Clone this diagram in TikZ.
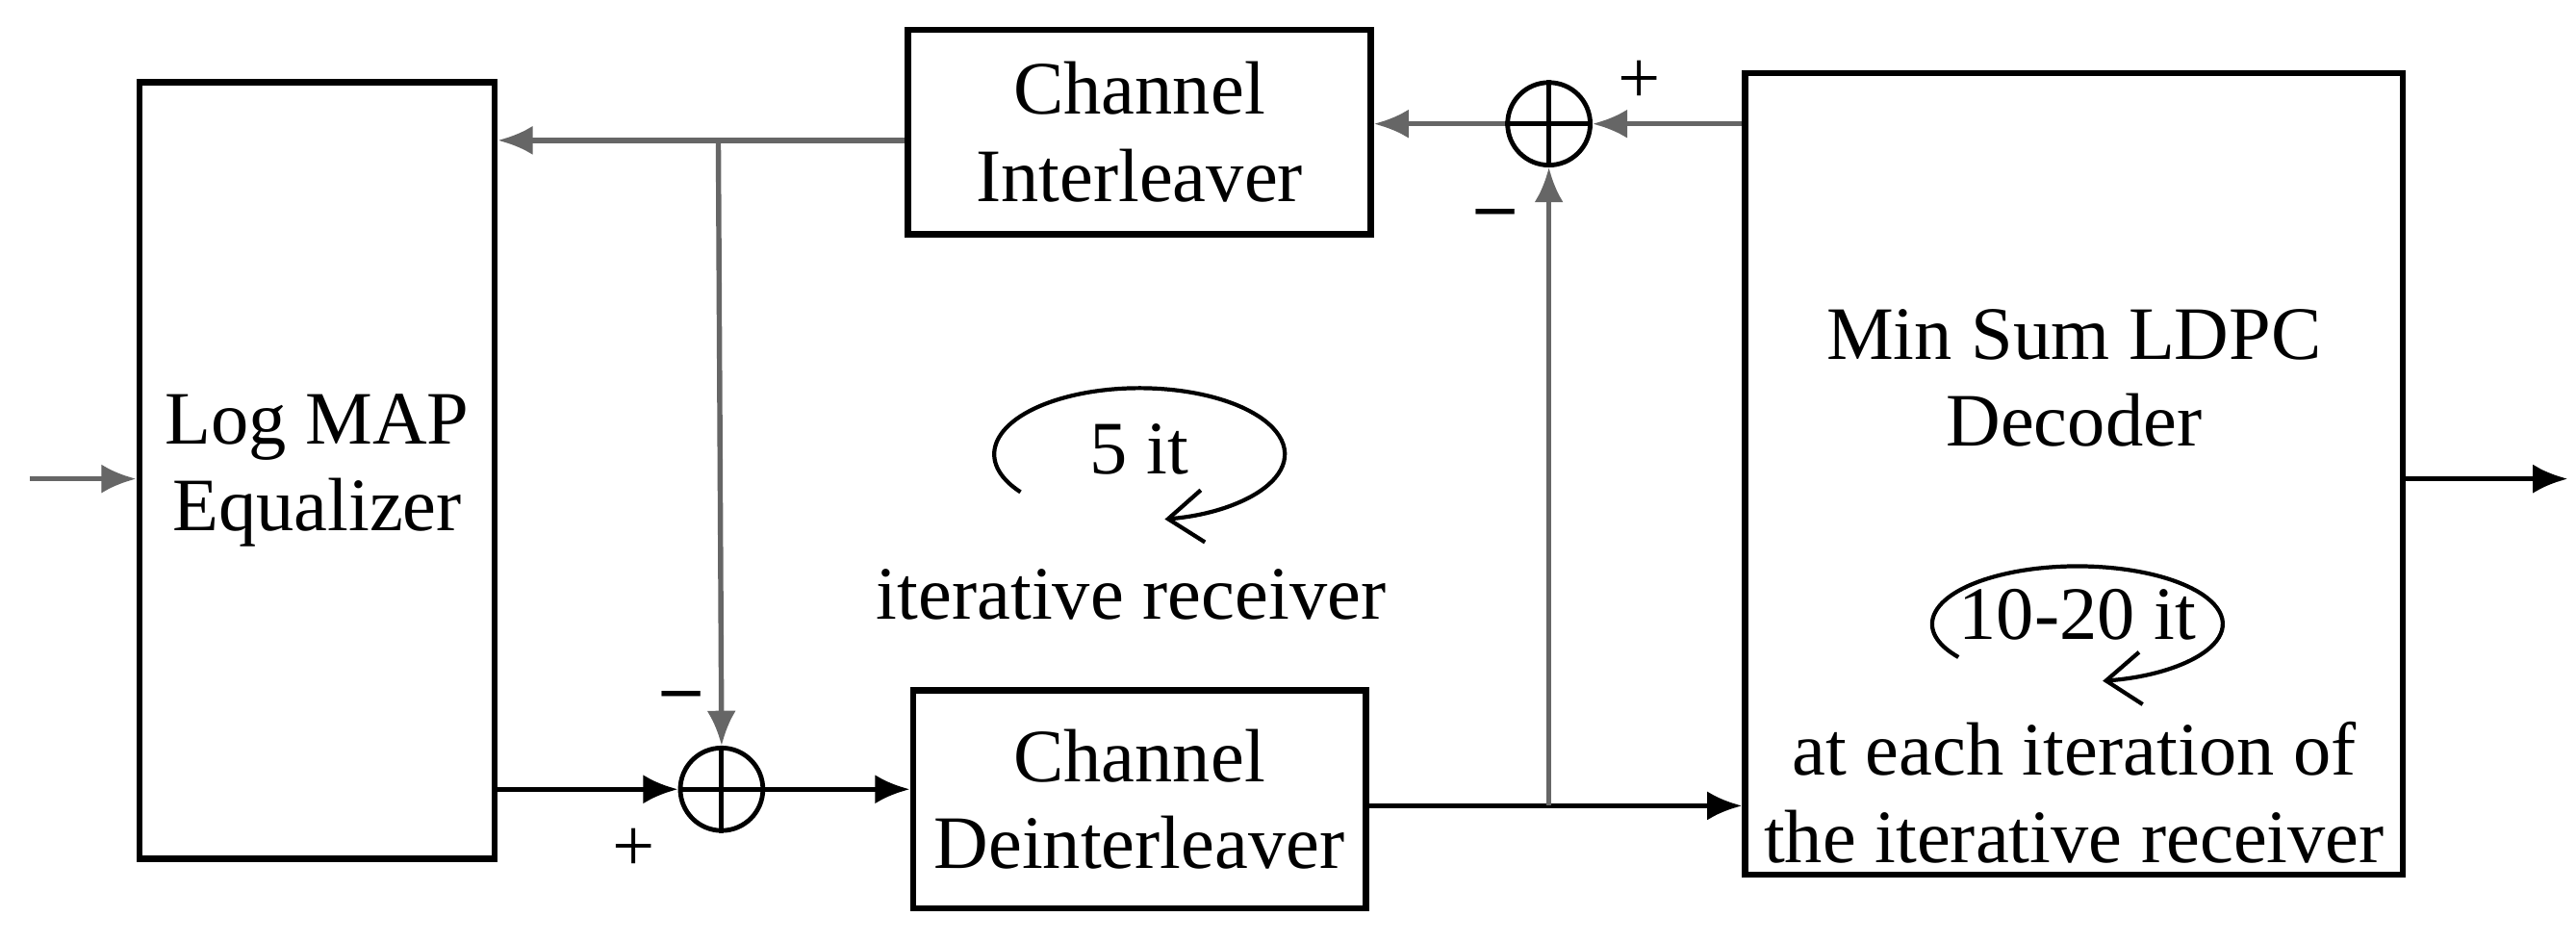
\documentclass[tikz,border=0pt]{standalone}
\usepackage{fontspec}
\setmainfont{Liberation Serif}
\usetikzlibrary{arrows.meta,calc}
\begin{document}
\begin{tikzpicture}[x=0.01cm,y=-0.01cm,
  box/.style={draw,line width=1.1pt,align=center,font=\fontsize{13}{15}\selectfont,inner sep=0},
  wire/.style={line width=0.9pt,-{Latex[length=6pt,width=5pt]}},
  gwire/.style={wire,draw=gray!80!black},
  sum/.style={draw,circle,line width=0.8pt,minimum size=0.5cm,inner sep=0},
  lbl/.style={font=\fontsize{13}{15}\selectfont,align=center},
  loop/.style={line width=0.7pt,-{Straight Barb[length=6pt,width=9pt]}}]
\useasboundingbox (0,0) rectangle (1560,570);
\node[box,minimum width=2.15cm,minimum height=4.7cm] (eq) at (192,285) {Log MAP\\Equalizer};
\node[box,minimum width=2.8cm,minimum height=1.24cm] (il) at (690,80) {Channel\\Interleaver};
\node[box,minimum width=2.74cm,minimum height=1.32cm] (dil) at (690,484) {Channel\\Deinterleaver};
\node[box,minimum width=3.98cm,minimum height=4.85cm] (dec) at (1256,287) {};
\node[lbl] (dect) at (1256,229) {Min Sum LDPC\\Decoder};
\node[lbl] (dect2) at (1256,480) {at each iteration of\\the iterative receiver};
\node[sum] (s1) at (437,478) {};
\draw[line width=0.8pt] (s1.north)--(s1.south) (s1.west)--(s1.east);
\node[sum] (s2) at (938,75) {};
\draw[line width=0.8pt] (s2.north)--(s2.south) (s2.west)--(s2.east);
\coordinate (in) at (18,290);
\coordinate (out) at (1555,290);
\coordinate (j1) at (435,85);
\coordinate (j2) at (938,488);
\draw[gwire] (in) -- (eq.west|-in);
\draw[wire] (dec.east|-out) -- (out);
\draw[gwire] (il.west|-j1) -- (eq.east|-j1);
\draw[gwire] (j1) -- (s1.north);
\draw[wire] (eq.east|-s1) -- (s1.west);
\draw[wire] (s1.east) -- (dil.west|-s1);
\draw[wire] (dil.east|-j2) -- (dec.west|-j2);
\draw[gwire] (j2) -- (s2.south);
\draw[gwire] (dec.west|-s2) -- (s2.east);
\draw[gwire] (s2.west) -- (il.east|-s2);
\node[lbl] (p1) at (993,50) {+};
\node[lbl] (m1) at (906,133) {\textbf{\textendash}};
\node[lbl] (m2) at (413,425) {\textbf{\textendash}};
\node[lbl] (p2) at (384,515) {+};
\node[lbl] (it5) at (690,272) {5 it};
\node[lbl] (itr) at (685,360) {iterative receiver};
\coordinate (c5) at (690,275);
\draw[loop] ($(c5)+(-72,23)$) arc[start angle=145,end angle=440,x radius=88,y radius=40];
\node[lbl] (it10) at (1258,372) {10-20 it};
\coordinate (c10) at (1258,378);
\draw[loop] ($(c10)+(-72,20)$) arc[start angle=145,end angle=440,x radius=88,y radius=35];
\end{tikzpicture}
\end{document}
